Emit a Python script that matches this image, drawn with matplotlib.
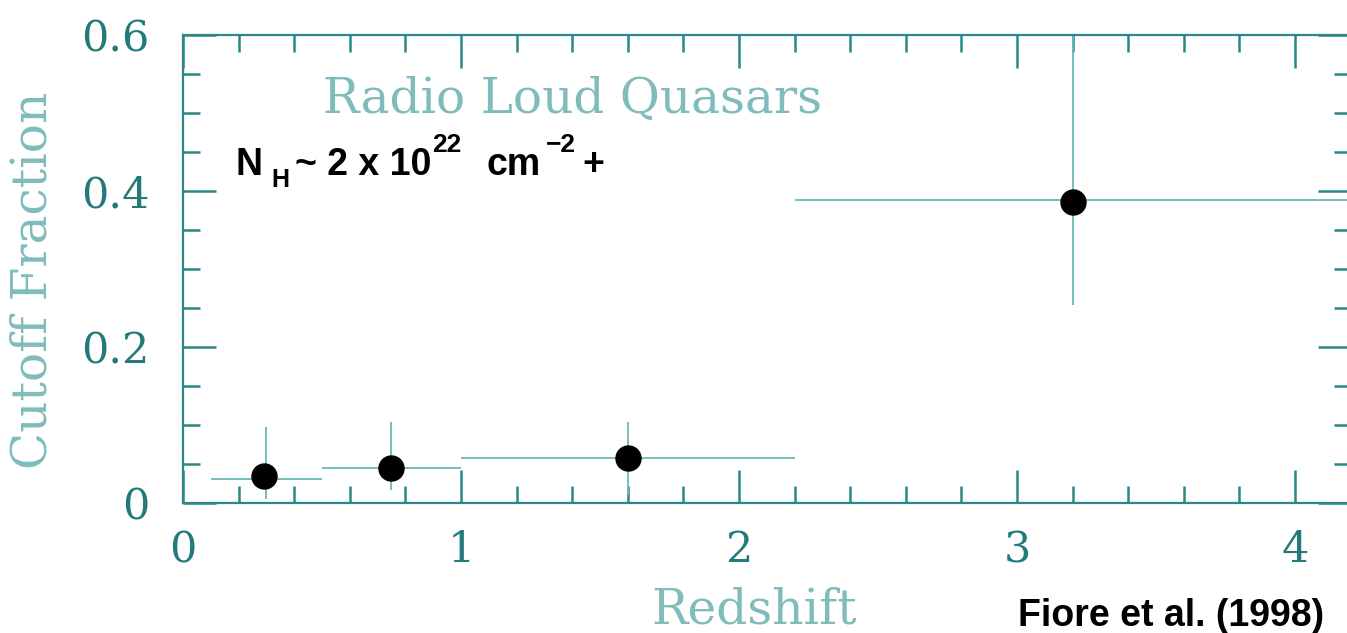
import matplotlib
matplotlib.use('Agg')
import matplotlib.pyplot as plt
from matplotlib.ticker import MultipleLocator
import numpy as np

# Fiore et al. (1998): cutoff fraction vs redshift, radio loud quasars
z_mid = np.array([0.3, 0.75, 1.6, 3.2])
z_lo = np.array([0.1, 0.5, 1.0, 2.2])
z_hi = np.array([0.5, 1.0, 2.2, 4.3])
frac = np.array([0.031, 0.045, 0.058, 0.389])
frac_lo = np.array([0.005, 0.017, 0.010, 0.254])
frac_hi = np.array([0.098, 0.104, 0.104, 0.65])

# black dots drawn over the error crosses
dot_z = [0.29, 0.75, 1.6, 3.2]
dot_frac = [0.035, 0.045, 0.058, 0.386]

xticks = [0, 1, 2, 3, 4]
xtick_labels = ['0', '1', '2', '3', '4']
yticks = [0, 0.2, 0.4, 0.6]
ytick_labels = ['0', '0.2', '0.4', '0.6']

W, H = 1347, 633
teal_dark = '#237a7a'
teal_axis = '#2b8888'
teal_light = '#80bcbc'
teal_err = '#6cb8b8'


def px(x, y):
    # pixel position (from top-left) -> figure fraction
    return x / W, 1 - y / H


fig = plt.figure(figsize=(W / 100, H / 100), dpi=100)
ax = fig.add_axes([183 / W, (H - 503) / H, (1350.6 - 183) / W, 468 / H])

ax.errorbar(z_mid, frac, xerr=[z_mid - z_lo, z_hi - z_mid],
            yerr=[frac - frac_lo, frac_hi - frac],
            fmt='none', ecolor=teal_err, elinewidth=1.3, capsize=0)
ax.plot(dot_z, dot_frac, 'o', color='black', ms=18, zorder=5)

ax.set_xlim(0, 4.2)
ax.set_ylim(0, 0.6)
ax.set_xticks(xticks)
ax.set_xticklabels(xtick_labels)
ax.set_yticks(yticks)
ax.set_yticklabels(ytick_labels)
ax.xaxis.set_minor_locator(MultipleLocator(0.2))
ax.yaxis.set_minor_locator(MultipleLocator(0.05))

ax.tick_params(which='both', direction='in', top=True, right=True,
               color=teal_axis, width=1.8)
ax.tick_params(which='major', length=23.5)
ax.tick_params(which='minor', length=12)
ax.tick_params(axis='x', pad=19, labelsize=31, labelcolor=teal_dark)
ax.tick_params(axis='y', pad=24, labelsize=31, labelcolor=teal_dark)
for lab in ax.get_xticklabels() + ax.get_yticklabels():
    lab.set_family('DejaVu Serif')
for sp in ax.spines.values():
    sp.set_color(teal_axis)
    sp.set_linewidth(1.6)

serif = dict(family='DejaVu Serif', color=teal_light, fontsize=35)
fig.text(*px(323, 113), 'Radio Loud Quasars', va='baseline', ha='left', **serif)
fig.text(*px(754, 623), 'Redshift', va='baseline', ha='center', **serif)
fig.text(*px(33, 280), 'Cutoff Fraction', va='center', ha='center',
         rotation=90, **serif)

# column density label, built from pieces
bold = dict(family='Liberation Sans', weight='bold', color='black', va='baseline')
fig.text(*px(235, 175), 'N', fontsize=27, **bold)
fig.text(*px(271, 187), 'H', fontsize=18, **bold)
fig.text(*px(295, 175), '~ 2 x 10', fontsize=27, **bold)
fig.text(*px(432, 152), '22', fontsize=19, **bold)
fig.text(*px(487, 175), 'cm', fontsize=27, **bold)
fig.text(*px(546, 152), '\u22122', fontsize=19, **bold)
fig.text(*px(582, 175), '+', fontsize=27, **bold)

fig.text(*px(1018, 626), 'Fiore et al. (1998)', fontsize=27, **bold)

fig.savefig('out.png', dpi=100)
